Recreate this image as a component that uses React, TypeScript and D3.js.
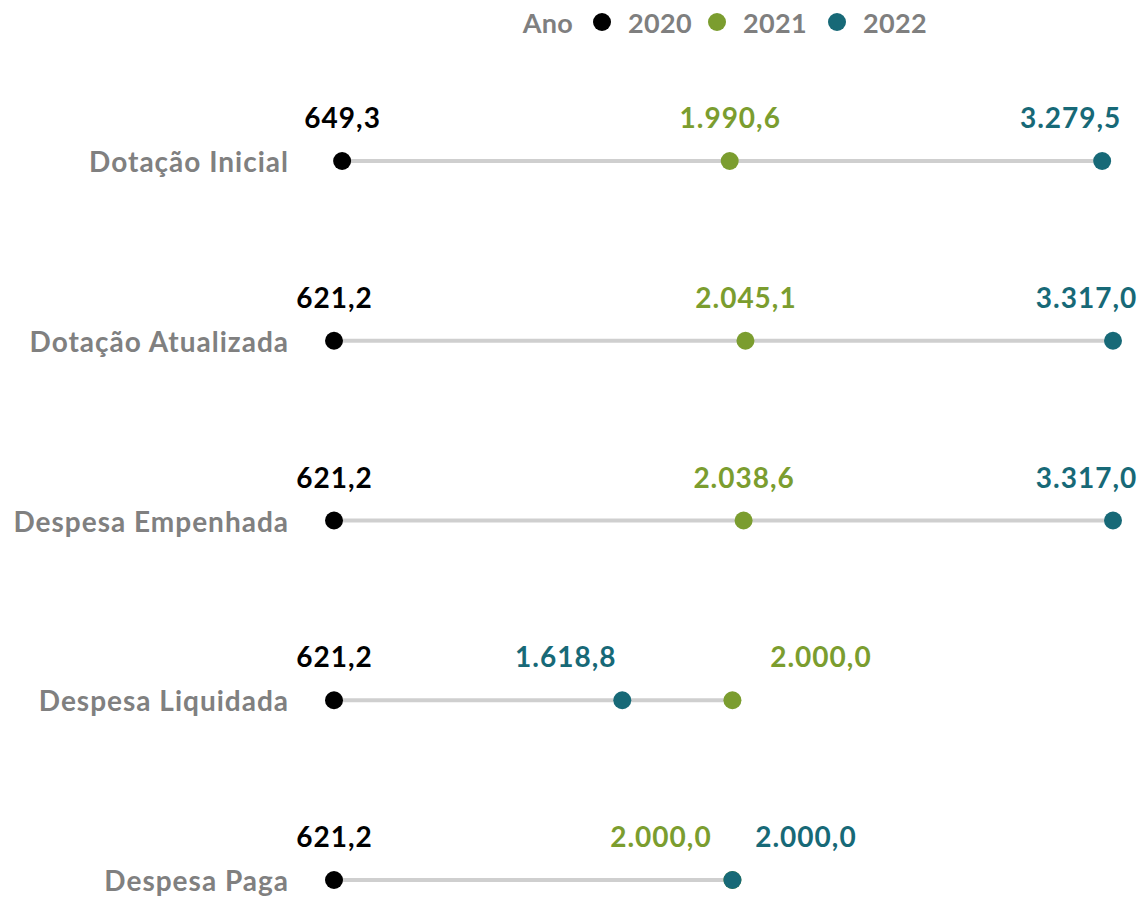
import React from "react";
import * as d3 from "d3";

const categories = [
  "Dotação Inicial",
  "Dotação Atualizada",
  "Despesa Empenhada",
  "Despesa Liquidada",
  "Despesa Paga",
];
const years = ["2020", "2021", "2022"];
const values2020 = [649.3, 621.2, 621.2, 621.2, 621.2];
const values2021 = [1990.6, 2045.1, 2038.6, 2000.0, 2000.0];
const values2022 = [3279.5, 3317.0, 3317.0, 1618.8, 2000.0];

// label horizontal offsets (layout only), per series per row
const labelDx2020 = [0, 0, 0, 0, 0];
const labelDx2021 = [0, 0, 0, 88, -72];
const labelDx2022 = [-32, -27, -27, -57, 73];

const colors = ["#000000", "#7b9d2f", "#176977"];
const W = 1141;
const H = 897;

const fmt = (v: number) => {
  const s = v.toFixed(1);
  const [i, d] = s.split(".");
  const withDots = i.replace(/\B(?=(\d{3})+(?!\d))/g, ".");
  return withDots + "," + d;
};

export default function App() {
  const x = d3.scaleLinear().domain([0, 3317]).range([154.5, 1113]);
  const y = d3.scalePoint<string>().domain(categories).range([161, 880]);
  const series = [values2020, values2021, values2022];
  const dxs = [labelDx2020, labelDx2021, labelDx2022];
  const font = "Lato, 'Open Sans', sans-serif";
  const legendX = [602, 717, 837];

  return (
    <svg
      width={W}
      height={H}
      style={{ position: "absolute", left: 0, top: 0, fontFamily: font }}
    >
      <g fontWeight="bold" fontSize={27} fill="#7f7f7f" letterSpacing={0.3}>
        <text x={573} y={22} textAnchor="end" dominantBaseline="central">
          Ano
        </text>
        {years.map((yr, i) => (
          <g key={yr}>
            <circle cx={legendX[i]} cy={22} r={9} fill={colors[i]} />
            <text x={legendX[i] + 26} y={22} dominantBaseline="central">
              {yr}
            </text>
          </g>
        ))}
      </g>
      {categories.map((c, r) => {
        const vals = series.map((s) => s[r]);
        const yy = y(c)!;
        return (
          <g key={c}>
            <text
              x={289}
              y={yy}
              textAnchor="end"
              dominantBaseline="central"
              fontWeight="bold"
              fontSize={28}
              letterSpacing={1}
              fill="#808080"
            >
              {c}
            </text>
            <line
              x1={x(d3.min(vals)!)}
              x2={x(d3.max(vals)!)}
              y1={yy}
              y2={yy}
              stroke="#cfcfcf"
              strokeWidth={4}
            />
            {series.map((s, k) => (
              <circle key={k} cx={x(s[r])} cy={yy} r={9} fill={colors[k]} />
            ))}
            {series.map((s, k) => (
              <text
                key={"t" + k}
                x={x(s[r]) + dxs[k][r] + 0.5}
                y={yy - 33}
                textAnchor="middle"
                fontWeight="bold"
                fontSize={28}
                letterSpacing={1}
                fill={colors[k]}
              >
                {fmt(s[r])}
              </text>
            ))}
          </g>
        );
      })}
    </svg>
  );
}
